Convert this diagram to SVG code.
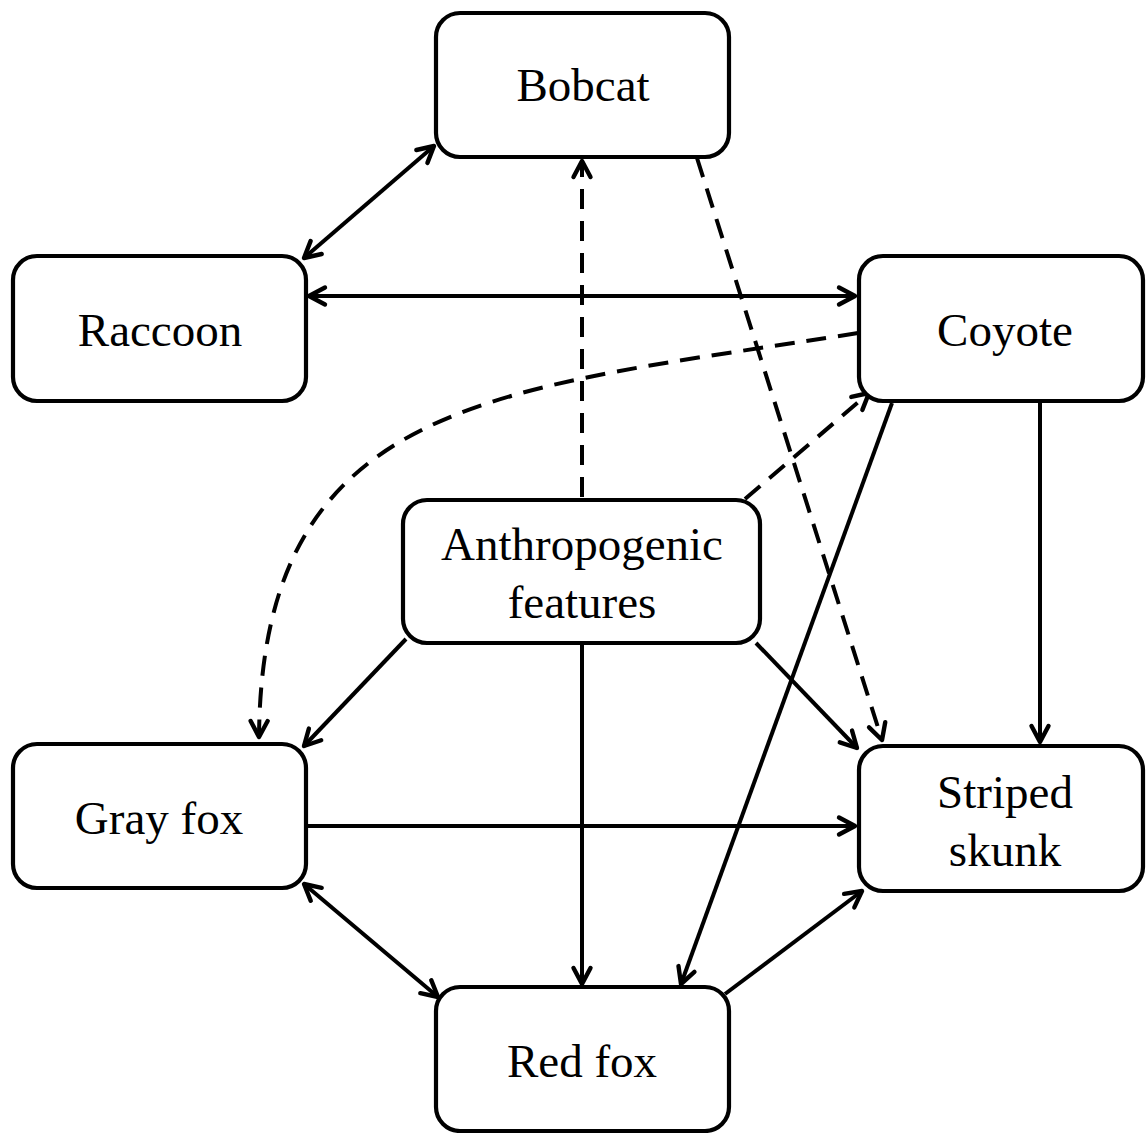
<svg xmlns="http://www.w3.org/2000/svg" width="1146" height="1133" viewBox="0 0 1146 1133">
<defs>
<style>
.node rect{fill:#fff;stroke:#000;stroke-width:4.2}
.node text{font-family:"Liberation Serif","Times New Roman",serif;font-size:47px;fill:#000;text-anchor:middle}
.edge{fill:none;stroke:#000;stroke-width:4;marker-end:url(#ah)}
.both{marker-start:url(#ah)}
.dash{stroke-dasharray:20 12}
</style>
<marker id="ah" markerUnits="userSpaceOnUse" viewBox="-20 -12 24 24" refX="0" refY="0" markerWidth="24" markerHeight="24" orient="auto-start-reverse">
<path d="M-16,-8.5 L0,0 L-16,8.5" fill="none" stroke="#000" stroke-width="4.4" stroke-dasharray="none" stroke-linejoin="round" stroke-linecap="round"/>
</marker>
</defs>
<rect width="1146" height="1133" fill="#fff"/>
<g id="connectors">
<line class="edge both" x1="434" y1="146" x2="304" y2="258"/>
<line class="edge both" x1="309" y1="296" x2="855" y2="296"/>
<line class="edge dash" x1="582" y1="497" x2="582" y2="161"/>
<line class="edge dash" x1="697" y1="158" x2="882" y2="740"/>
<path class="edge dash" d="M858,333 C500,390 262,395 259,737"/>
<line class="edge dash" x1="745" y1="499" x2="869" y2="393"/>
<line class="edge" x1="892" y1="403" x2="681" y2="984"/>
<line class="edge" x1="1040" y1="403" x2="1040" y2="742"/>
<line class="edge" x1="406" y1="639" x2="304" y2="746"/>
<line class="edge" x1="582" y1="645" x2="582" y2="984"/>
<line class="edge" x1="756" y1="643" x2="857" y2="748"/>
<line class="edge" x1="308" y1="826" x2="855" y2="826"/>
<line class="edge both" x1="304" y1="884" x2="438" y2="997"/>
<line class="edge" x1="725" y1="994" x2="862" y2="891"/>
</g>
<g id="bobcat" class="node"><rect x="436" y="13" width="293" height="144" rx="24"/><text x="583" y="101">Bobcat</text></g>
<g id="raccoon" class="node"><rect x="13" y="256" width="293" height="145" rx="24"/><text x="160" y="346">Raccoon</text></g>
<g id="coyote" class="node"><rect x="859" y="256" width="284" height="145" rx="24"/><text x="1005" y="346">Coyote</text></g>
<g id="anthropogenic" class="node"><rect x="403" y="500" width="357" height="143" rx="24"/><text x="582" y="560">Anthropogenic</text><text x="582" y="618">features</text></g>
<g id="grayfox" class="node"><rect x="13" y="744" width="293" height="144" rx="24"/><text x="159" y="834">Gray fox</text></g>
<g id="skunk" class="node"><rect x="859" y="746" width="284" height="145" rx="24"/><text x="1005" y="808">Striped</text><text x="1005" y="866">skunk</text></g>
<g id="redfox" class="node"><rect x="436" y="987" width="293" height="144" rx="24"/><text x="582" y="1077">Red fox</text></g>
</svg>
